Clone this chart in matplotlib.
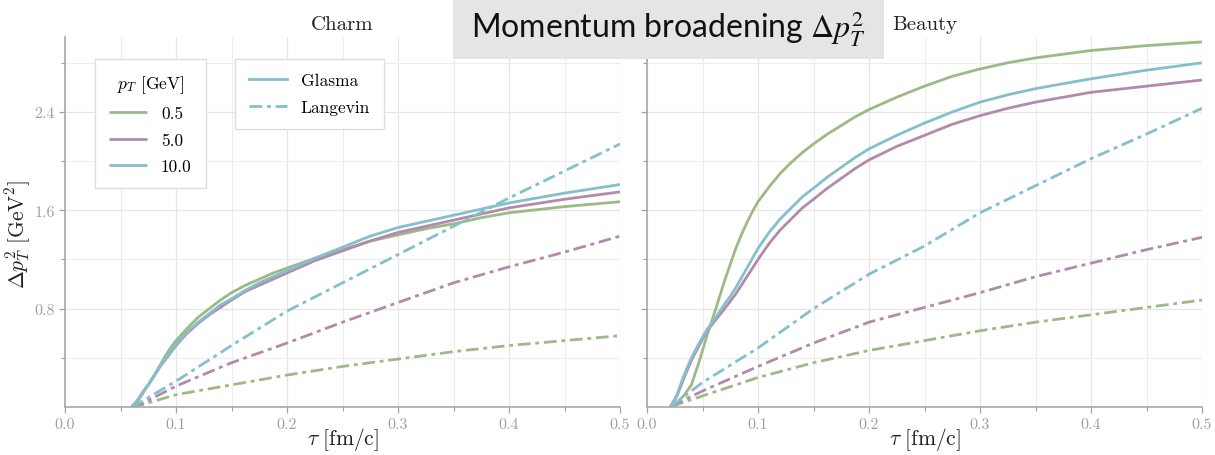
import matplotlib
matplotlib.use("Agg")
import matplotlib.pyplot as plt
from matplotlib.patches import Rectangle

plt.rcParams['font.family'] = 'serif'
plt.rcParams['font.serif'] = ['cmr10']
plt.rcParams['mathtext.fontset'] = 'cm'
plt.rcParams['axes.formatter.use_mathtext'] = True

# ---------------- data ----------------
pt_labels = ["0.5", "5.0", "10.0"]
colors = ["#9dba86", "#b28bab", "#84bfcd"]

# Charm (left)
tau_charm_glasma = [0.06, 0.065, 0.07, 0.075, 0.08, 0.085, 0.09, 0.095, 0.1, 0.11, 0.12, 0.13,
                    0.14, 0.15, 0.1625, 0.175, 0.1875, 0.2, 0.225, 0.25, 0.275, 0.3, 0.325,
                    0.35, 0.375, 0.4, 0.45, 0.5]
charm_glasma_05 = [0, 0.04, 0.11, 0.18, 0.25, 0.33, 0.41, 0.48, 0.54, 0.64, 0.73, 0.80,
                   0.87, 0.93, 0.99, 1.04, 1.09, 1.13, 1.21, 1.28, 1.35, 1.40, 1.45,
                   1.49, 1.54, 1.58, 1.63, 1.67]
charm_glasma_50 = [0, 0.05, 0.12, 0.18, 0.25, 0.32, 0.38, 0.44, 0.50, 0.60, 0.68, 0.75,
                   0.81, 0.87, 0.94, 0.99, 1.04, 1.09, 1.19, 1.27, 1.35, 1.42, 1.47,
                   1.52, 1.57, 1.62, 1.69, 1.75]
charm_glasma_100 = [0, 0.05, 0.12, 0.18, 0.25, 0.32, 0.39, 0.45, 0.51, 0.61, 0.69, 0.76,
                    0.83, 0.88, 0.95, 1.01, 1.06, 1.11, 1.21, 1.30, 1.39, 1.46, 1.51,
                    1.56, 1.61, 1.66, 1.74, 1.81]

tau_charm_langevin = [0.06, 0.065, 0.07, 0.1, 0.15, 0.2, 0.25, 0.3, 0.35, 0.4, 0.45, 0.5]
charm_langevin_05 = [0, 0.01, 0.02, 0.10, 0.18, 0.26, 0.33, 0.39, 0.45, 0.50, 0.54, 0.58]
charm_langevin_50 = [0, 0.01, 0.03, 0.17, 0.36, 0.52, 0.69, 0.85, 1.01, 1.14, 1.26, 1.39]
charm_langevin_100 = [0, 0.02, 0.05, 0.21, 0.50, 0.78, 1.01, 1.24, 1.47, 1.70, 1.92, 2.14]

# Beauty (right)
tau_beauty_glasma = [0.021, 0.027, 0.033, 0.04, 0.047, 0.054, 0.062, 0.07, 0.075, 0.08, 0.085,
                     0.09, 0.095, 0.1, 0.11, 0.12, 0.13, 0.14, 0.15, 0.1625, 0.175, 0.1875,
                     0.2, 0.225, 0.25, 0.275, 0.3, 0.325, 0.35, 0.375, 0.4, 0.45, 0.5]
beauty_glasma_05 = [0, 0.04, 0.09, 0.18, 0.37, 0.58, 0.80, 1.03, 1.16, 1.29, 1.40,
                    1.50, 1.59, 1.67, 1.79, 1.90, 1.99, 2.07, 2.14, 2.22, 2.29, 2.36,
                    2.42, 2.52, 2.61, 2.69, 2.75, 2.80, 2.84, 2.87, 2.90, 2.94, 2.97]
beauty_glasma_50 = [0, 0.09, 0.23, 0.38, 0.50, 0.62, 0.71, 0.80, 0.86, 0.92, 0.99,
                    1.06, 1.13, 1.20, 1.33, 1.44, 1.53, 1.62, 1.69, 1.78, 1.86, 1.94,
                    2.01, 2.12, 2.21, 2.30, 2.37, 2.43, 2.48, 2.52, 2.56, 2.61, 2.66]
beauty_glasma_100 = [0, 0.10, 0.25, 0.40, 0.52, 0.63, 0.73, 0.84, 0.90, 0.97, 1.05,
                     1.13, 1.21, 1.29, 1.42, 1.53, 1.62, 1.71, 1.78, 1.87, 1.95, 2.03,
                     2.10, 2.21, 2.31, 2.40, 2.48, 2.54, 2.59, 2.63, 2.67, 2.74, 2.80]

tau_beauty_langevin = [0.022, 0.027, 0.05, 0.1, 0.15, 0.2, 0.25, 0.3, 0.35, 0.4, 0.45, 0.5]
beauty_langevin_05 = [0, 0.02, 0.09, 0.24, 0.36, 0.46, 0.54, 0.62, 0.69, 0.75, 0.81, 0.87]
beauty_langevin_50 = [0, 0.03, 0.13, 0.33, 0.52, 0.69, 0.81, 0.93, 1.06, 1.17, 1.28, 1.38]
beauty_langevin_100 = [0, 0.04, 0.20, 0.48, 0.80, 1.08, 1.31, 1.58, 1.80, 2.02, 2.22, 2.43]

x_ticks = [0.0, 0.1, 0.2, 0.3, 0.4, 0.5]
y_ticks = [0.8, 1.6, 2.4]

panels = [
    ("Charm", tau_charm_glasma, [charm_glasma_05, charm_glasma_50, charm_glasma_100],
     tau_charm_langevin, [charm_langevin_05, charm_langevin_50, charm_langevin_100]),
    ("Beauty", tau_beauty_glasma, [beauty_glasma_05, beauty_glasma_50, beauty_glasma_100],
     tau_beauty_langevin, [beauty_langevin_05, beauty_langevin_50, beauty_langevin_100]),
]

# ---------------- figure ----------------
W, H = 1215, 456
fig = plt.figure(figsize=(W / 100, H / 100), dpi=100)
ax_w, ax_h = 555 / W, 370 / H
bottom = 1 - 408 / H
axes = [fig.add_axes([65 / W, bottom, ax_w, ax_h]),
        fig.add_axes([647 / W, bottom, ax_w, ax_h])]

dashdot = (0, (4.6, 1.7, 1.4, 1.7))
lw = 2.0
tick_col = "#a0a0a0"

for i, (ax, (name, tg, glasma, tl, langevin)) in enumerate(zip(axes, panels)):
    g_handles = []
    for c, yv, lab in zip(colors, glasma, pt_labels):
        h, = ax.plot(tg, yv, color=c, lw=lw, solid_capstyle='butt', label=lab)
        g_handles.append(h)
    for c, yv in zip(colors, langevin):
        ax.plot(tl, yv, color=c, lw=lw, linestyle=dashdot)

    ax.set_xlim(0, 0.5)
    ax.set_ylim(0, 3.01)
    ax.set_xticks(x_ticks)
    ax.set_xticks([0.05, 0.15, 0.25, 0.35, 0.45], minor=True)
    ax.set_yticks(y_ticks)
    ax.set_yticks([0.4, 1.2, 2.0, 2.8], minor=True)
    ax.set_xticklabels([f"{v:.1f}" for v in x_ticks])
    if i == 0:
        ax.set_yticklabels([f"{v:.1f}" for v in y_ticks])
        ax.set_ylabel(r"$\Delta p_T^2\ [\mathrm{GeV}^2]$", fontsize=15.5, color="#222222")
        ax.yaxis.set_label_coords(-0.058, 0.47)
    else:
        ax.set_yticklabels([])
    ax.set_xlabel(r"$\tau\ [\mathrm{fm/c}]$", fontsize=15.5, color="#222222")
    ax.xaxis.set_label_coords(0.5, -0.05)
    ax.set_title(name, fontsize=15, pad=6, color="#222222")

    ax.grid(True, which='major', color="#e6e6e6", lw=0.9)
    ax.grid(True, which='minor', color="#ededed", lw=0.8)
    ax.set_axisbelow(True)
    for s in ("top", "right"):
        ax.spines[s].set_visible(False)
    for s in ("left", "bottom"):
        ax.spines[s].set_color("#a8a8a8")
        ax.spines[s].set_linewidth(1.2)
    ax.tick_params(which='major', length=4, width=0.9, color=tick_col,
                   labelcolor=tick_col, labelsize=11.5, direction='out')
    ax.tick_params(which='minor', length=3, width=0.8, color=tick_col, direction='out')

    if i == 0:
        leg1 = ax.legend(handles=g_handles, title=r"$p_T$ [GeV]", loc='upper left',
                         bbox_to_anchor=(0.054, 0.9405), fontsize=12.5, title_fontsize=12.5,
                         fancybox=False, edgecolor="#dddddd", framealpha=1,
                         handlelength=2.2, borderpad=0.8, labelspacing=0.65,
                         borderaxespad=0)
        leg1.get_frame().set_linewidth(1.0)
        ax.add_artist(leg1)
        h1, = ax.plot([], [], color=colors[2], lw=lw, label="Glasma")
        h2, = ax.plot([], [], color=colors[2], lw=lw, linestyle=dashdot, label="Langevin")
        leg2 = ax.legend(handles=[h1, h2], loc='upper left', bbox_to_anchor=(0.306, 0.9405),
                         fontsize=12.5, fancybox=False, edgecolor="#dddddd", framealpha=1,
                         handlelength=2.2, borderpad=0.8, labelspacing=0.65,
                         borderaxespad=0)
        leg2.get_frame().set_linewidth(1.0)

# title box
rect = Rectangle((453 / W, 1 - 60 / H), 431 / W, 60 / H + 0.01, transform=fig.transFigure,
                 facecolor="#e5e5e5", edgecolor="none", zorder=10)
fig.add_artist(rect)
fig.text(668 / W, 1 - 38 / H, r"Momentum broadening $\Delta p_T^2$", ha='center', va='baseline',
         fontsize=23, family='Lato', math_fontfamily='stix', color="#111111", zorder=11)

fig.savefig("out.png", dpi=100)
